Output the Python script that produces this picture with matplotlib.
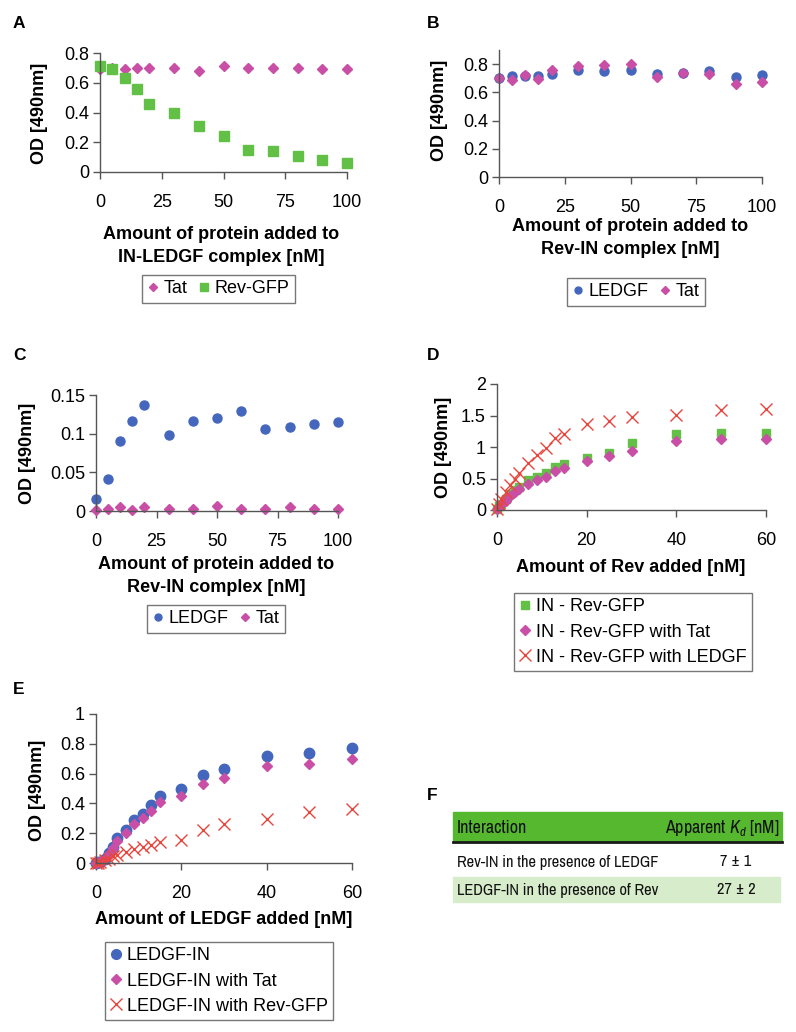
import matplotlib
matplotlib.use("Agg")
import matplotlib.pyplot as plt
from matplotlib import font_manager
from matplotlib.lines import Line2D
from matplotlib.patches import Rectangle

# ---- data ----
conc_ab = [0, 5, 10, 15, 20, 30, 40, 50, 60, 70, 80, 90, 100]

a_tat = [0.69, 0.70, 0.69, 0.70, 0.70, 0.70, 0.68, 0.71, 0.70, 0.70, 0.70, 0.69, 0.69]
a_revgfp = [0.71, 0.69, 0.63, 0.56, 0.46, 0.40, 0.31, 0.24, 0.15, 0.14, 0.11, 0.08, 0.06]

b_ledgf = [0.70, 0.715, 0.715, 0.715, 0.73, 0.76, 0.75, 0.755, 0.73, 0.735, 0.75, 0.71, 0.72]
b_tat = [0.70, 0.687, 0.725, 0.696, 0.758, 0.784, 0.795, 0.80, 0.711, 0.736, 0.727, 0.656, 0.673]

c_ledgf = [0.015, 0.041, 0.091, 0.116, 0.137, 0.098, 0.117, 0.120, 0.129, 0.106, 0.109, 0.113, 0.115]
c_tat = [0.001, 0.002, 0.005, 0.001, 0.005, 0.003, 0.003, 0.006, 0.003, 0.003, 0.005, 0.003, 0.003]

conc_de = [0, 0.5, 1, 2, 3, 4, 5, 7, 9, 11, 13, 15, 20, 25, 30, 40, 50, 60]

d_in_revgfp = [0.02, 0.06, 0.10, 0.17, 0.25, 0.31, 0.37, 0.48, 0.52, 0.58, 0.69, 0.73, 0.83, 0.91, 1.06, 1.21, 1.23, 1.23]
d_with_tat = [0.01, 0.05, 0.09, 0.15, 0.22, 0.28, 0.33, 0.42, 0.47, 0.52, 0.62, 0.66, 0.77, 0.85, 0.94, 1.10, 1.13, 1.13]
d_with_ledgf = [0.02, 0.10, 0.18, 0.28, 0.40, 0.50, 0.58, 0.75, 0.87, 0.99, 1.14, 1.21, 1.36, 1.41, 1.47, 1.51, 1.59, 1.60]

e_ledgf_in = [0.0, 0.005, 0.01, 0.03, 0.07, 0.11, 0.165, 0.22, 0.29, 0.33, 0.39, 0.45, 0.50, 0.59, 0.63, 0.72, 0.74, 0.775]
e_with_tat = [0.0, 0.004, 0.01, 0.03, 0.06, 0.10, 0.15, 0.20, 0.26, 0.30, 0.35, 0.41, 0.45, 0.53, 0.57, 0.65, 0.665, 0.70]
e_with_revgfp = [0.0, 0.003, 0.01, 0.02, 0.03, 0.045, 0.056, 0.074, 0.094, 0.107, 0.12, 0.141, 0.156, 0.223, 0.261, 0.297, 0.344, 0.36]

table_header = ["Interaction", "Apparent $K_d$ [nM]"]
table_rows = [["Rev-IN in the presence of LEDGF", "7 ± 1"],
              ["LEDGF-IN in the presence of Rev", "27 ± 2"]]

# ---- styling ----
MAG = "#c94fa6"
GRN = "#62c046"
BLU = "#4467bd"
RED = "#e8453c"
AXC = "#555555"

plt.rcParams["font.family"] = ["Liberation Sans", "DejaVu Sans"]

W, H = 796, 1032
fig = plt.figure(figsize=(W / 100, H / 100), dpi=100)


def ax_at(l, t, r, b):
    return fig.add_axes([l / W, 1 - b / H, (r - l) / W, (b - t) / H])


def ftext(x, y, s, **kw):
    return fig.text(x / W, 1 - y / H, s, **kw)


def style(ax, xt, yt, ylabels, xlim, ylim):
    ax.set_xlim(*xlim)
    ax.set_ylim(*ylim)
    ax.set_xticks(xt)
    ax.set_xticklabels([str(v) for v in xt])
    ax.set_yticks(yt)
    ax.set_yticklabels(ylabels)
    for s in ["top", "right"]:
        ax.spines[s].set_visible(False)
    for s in ["left", "bottom"]:
        ax.spines[s].set_color(AXC)
        ax.spines[s].set_linewidth(1.0)
    ax.tick_params(axis="x", direction="out", length=5, width=1, color=AXC, pad=11, labelsize=13)
    ax.tick_params(axis="y", direction="out", length=5, width=1, color=AXC, pad=3, labelsize=13)
    ax.patch.set_alpha(0)


def legend_at(handles, labels, l, t, ncol=1, spacing=0.25):
    leg = fig.legend(handles, labels, loc="upper left", bbox_to_anchor=(l / W, 1 - t / H),
                     ncol=ncol, frameon=True, fancybox=False, fontsize=13,
                     handlelength=0.6, handletextpad=0.3, columnspacing=0.6,
                     borderpad=0.3, labelspacing=spacing, borderaxespad=0)
    leg.get_frame().set_edgecolor(AXC)
    leg.get_frame().set_linewidth(1.0)
    return leg


lab_kw = dict(fontsize=13, fontweight="bold", ha="center", va="center")
pan_kw = dict(fontsize=12.5, fontweight="bold", ha="left", va="center")

# ---- A ----
ax = ax_at(100, 53, 347, 172)
ax.plot(conc_ab, a_tat, ls="none", marker="D", ms=5, color=MAG, clip_on=False)
ax.plot(conc_ab, a_revgfp, ls="none", marker="s", ms=7, color=GRN, clip_on=False)
style(ax, [0, 25, 50, 75, 100], [0, 0.2, 0.4, 0.6, 0.8], ["0", "0.2", "0.4", "0.6", "0.8"], (0, 100), (0, 0.8))
ftext(13, 24, "A", **pan_kw)
ftext(40, 113, "OD [490nm]", rotation=90, **lab_kw)
ftext(221, 246, "Amount of protein added to\nIN-LEDGF complex [nM]", linespacing=1.5, **lab_kw)
legend_at([Line2D([], [], ls="none", marker="D", ms=4, color=MAG),
           Line2D([], [], ls="none", marker="s", ms=5.5, color=GRN)],
          ["Tat", "Rev-GFP"], 142, 275, ncol=2)

# ---- B ----
ax = ax_at(499, 50, 762, 177)
ax.plot(conc_ab, b_ledgf, ls="none", marker="o", ms=6.5, color=BLU, clip_on=False)
ax.plot(conc_ab, b_tat, ls="none", marker="D", ms=5, color=MAG, clip_on=False)
style(ax, [0, 25, 50, 75, 100], [0, 0.2, 0.4, 0.6, 0.8], ["0", "0.2", "0.4", "0.6", "0.8"], (0, 100), (0, 0.9))
ftext(427, 23, "B", **pan_kw)
ftext(440, 110, "OD [490nm]", rotation=90, **lab_kw)
ftext(630, 238, "Amount of protein added to\nRev-IN complex [nM]", linespacing=1.45, **lab_kw)
legend_at([Line2D([], [], ls="none", marker="o", ms=5, color=BLU),
           Line2D([], [], ls="none", marker="D", ms=4, color=MAG)],
          ["LEDGF", "Tat"], 567, 278, ncol=2)

# ---- C ----
ax = ax_at(96, 395, 338, 511)
ax.plot(conc_ab, c_ledgf, ls="none", marker="o", ms=6.5, color=BLU, clip_on=False)
ax.plot(conc_ab, c_tat, ls="none", marker="D", ms=5, color=MAG, clip_on=False)
style(ax, [0, 25, 50, 75, 100], [0, 0.05, 0.1, 0.15], ["0", "0.05", "0.1", "0.15"], (0, 100), (0, 0.15))
ftext(13, 356, "C", **pan_kw)
ftext(28, 453, "OD [490nm]", rotation=90, **lab_kw)
ftext(216, 576, "Amount of protein added to\nRev-IN complex [nM]", linespacing=1.45, **lab_kw)
legend_at([Line2D([], [], ls="none", marker="o", ms=5, color=BLU),
           Line2D([], [], ls="none", marker="D", ms=4, color=MAG)],
          ["LEDGF", "Tat"], 147, 605, ncol=2)

# ---- D ----
ax = ax_at(497, 384, 766, 510)
ax.plot(conc_de, d_in_revgfp, ls="none", marker="s", ms=6, color=GRN, clip_on=False)
ax.plot(conc_de, d_with_tat, ls="none", marker="D", ms=5.5, color=MAG, clip_on=False)
ax.plot(conc_de, d_with_ledgf, ls="none", marker="x", ms=8, mew=1.0, color=RED, clip_on=False)
style(ax, [0, 20, 40, 60], [0, 0.5, 1, 1.5, 2], ["0", "0.5", "1", "1.5", "2"], (0, 60), (0, 2))
ftext(427, 355, "D", **pan_kw)
ftext(443, 447, "OD [490nm]", rotation=90, **lab_kw)
ftext(631, 568, "Amount of Rev added [nM]", **lab_kw)
legend_at([Line2D([], [], ls="none", marker="s", ms=5.5, color=GRN),
           Line2D([], [], ls="none", marker="D", ms=5, color=MAG),
           Line2D([], [], ls="none", marker="x", ms=8, mew=1.0, color=RED)],
          ["IN - Rev-GFP", "IN - Rev-GFP with Tat", "IN - Rev-GFP with LEDGF"], 514, 593,
          spacing=0.45)

# ---- E ----
ax = ax_at(96, 714, 352, 863)
ax.plot(conc_de, e_ledgf_in, ls="none", marker="o", ms=7.5, color=BLU, clip_on=False)
ax.plot(conc_de, e_with_tat, ls="none", marker="D", ms=5.5, color=MAG, clip_on=False)
ax.plot(conc_de, e_with_revgfp, ls="none", marker="x", ms=8, mew=1.0, color=RED, clip_on=False)
style(ax, [0, 20, 40, 60], [0, 0.2, 0.4, 0.6, 0.8, 1], ["0", "0.2", "0.4", "0.6", "0.8", "1"], (0, 60), (0, 1))
ftext(13, 689, "E", **pan_kw)
ftext(37, 790, "OD [490nm]", rotation=90, **lab_kw)
ftext(224, 920, "Amount of LEDGF added [nM]", **lab_kw)
legend_at([Line2D([], [], ls="none", marker="o", ms=7, color=BLU),
           Line2D([], [], ls="none", marker="D", ms=5.5, color=MAG),
           Line2D([], [], ls="none", marker="x", ms=8, mew=1.0, color=RED)],
          ["LEDGF-IN", "LEDGF-IN with Tat", "LEDGF-IN with Rev-GFP"], 105, 942,
          spacing=0.45)

# ---- F (table) ----
# look for an installed condensed face, otherwise plain Liberation Sans
narrow = None
for f in font_manager.fontManager.ttflist:
    if ("Narrow" in f.name or "Condensed" in f.name) and f.style == "normal":
        narrow = f.name
        break
cond_stretch = None
if narrow is None:
    for f in font_manager.fontManager.ttflist:
        if f.stretch in ("condensed", "semi-condensed", 600) and f.style == "normal" and f.weight in (400, "normal"):
            narrow = f.name
            cond_stretch = f.stretch
            break
if narrow is None:
    narrow = "Liberation Sans"
    fs_head, fs_row = 12, 11
else:
    fs_head, fs_row = 13, 11.8
tkw = dict(family=narrow, color="#111111", va="center")
if cond_stretch is not None:
    tkw["fontstretch"] = cond_stretch
plt.rcParams["mathtext.fontset"] = "custom"
plt.rcParams["mathtext.rm"] = narrow
plt.rcParams["mathtext.it"] = narrow + ":italic"

ftext(427, 795, "F", **pan_kw)
fig.patches.append(Rectangle((453 / W, 1 - 842 / H), (782 - 453) / W, 30 / H,
                             transform=fig.transFigure, color="#55b82e", zorder=0))
fig.patches.append(Rectangle((453 / W, 1 - 902 / H), (780 - 453) / W, 25 / H,
                             transform=fig.transFigure, color="#d6ecca", zorder=0))
fig.add_artist(Line2D([453 / W, 782 / W], [1 - 842 / H, 1 - 842 / H],
                      transform=fig.transFigure, color="#1a1a1a", lw=2))
ftext(457, 828, table_header[0], fontsize=fs_head, ha="left", **tkw)
ftext(779, 828, table_header[1], fontsize=fs_head, ha="right", **tkw)
for i, (lbl, val) in enumerate(table_rows):
    y = 862 + i * 28
    ftext(457, y, lbl, fontsize=fs_row, ha="left", **tkw)
    ftext(736, y, val, fontsize=fs_row, ha="center", **tkw)

fig.savefig("out.png", dpi=100)
